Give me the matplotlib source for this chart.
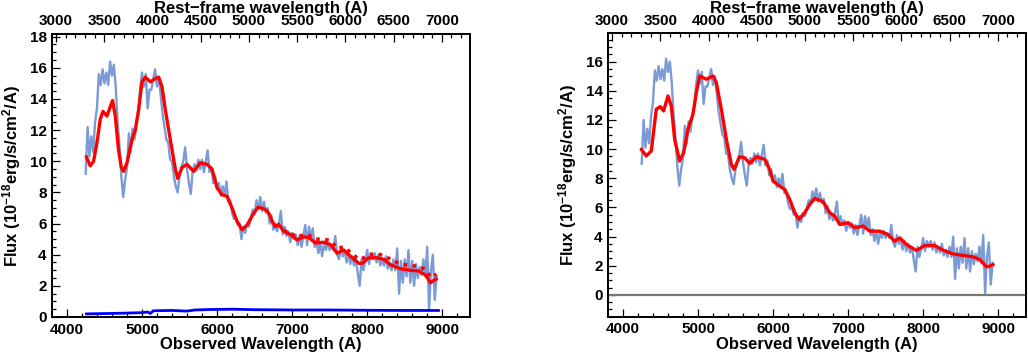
import numpy as np
import matplotlib
matplotlib.use("Agg")
import matplotlib.pyplot as plt
from matplotlib.ticker import MultipleLocator

plt.rcParams['font.family'] = ['Liberation Sans', 'DejaVu Sans']
plt.rcParams['font.weight'] = 'bold'
plt.rcParams['mathtext.fontset'] = 'custom'
plt.rcParams['mathtext.rm'] = 'Liberation Sans:bold'
plt.rcParams['mathtext.bf'] = 'Liberation Sans:bold'
plt.rcParams['mathtext.default'] = 'bf'

# redshift used for the rest-frame axis on top
z = 0.285
xmin, xmax = 3805, 9370

# observed spectrum (wavelength grid in A, flux in 1e-18 erg/s/cm2/A)
spec_wave = np.arange(4250, 8950, 25)
spec_flux_left = [
    9.2, 12.2, 10.3, 11.6, 10.6, 12.5, 13.4, 15.6, 14.9, 15.9,
    15.0, 15.7, 14.9, 16.4, 15.5, 16.2, 14.8, 12.5, 11.0, 9.0,
    7.7, 8.8, 9.6, 11.8, 10.6, 12.1, 11.4, 12.5, 13.2, 14.6,
    15.7, 14.8, 15.6, 13.4, 14.6, 14.6, 15.3, 15.9, 14.8, 15.4,
    14.2, 13.0, 12.2, 11.4, 11.2, 10.1, 10.0, 9.0, 8.4, 8.0,
    9.0, 9.6, 10.0, 10.9, 9.5, 8.6, 7.9, 9.4, 9.8, 9.4,
    10.1, 9.5, 10.1, 9.3, 10.0, 10.7, 9.3, 9.6, 8.6, 9.0,
    8.2, 8.6, 7.8, 8.4, 7.8, 8.7, 7.4, 7.5, 6.7, 6.3,
    6.4, 5.9, 6.0, 5.0, 5.8, 5.4, 6.0, 5.8, 6.3, 6.9,
    6.6, 7.5, 6.9, 7.7, 6.8, 7.4, 6.7, 7.0, 6.0, 6.5,
    5.6, 6.0, 5.5, 6.0, 6.8, 5.3, 5.8, 5.2, 5.5, 4.8,
    5.4, 5.0, 5.3, 4.6, 5.2, 4.5, 5.2, 5.9, 4.6, 5.8,
    5.0, 5.7, 4.5, 4.9, 4.1, 4.8, 3.9, 4.7, 4.3, 4.8,
    4.3, 4.6, 4.3, 5.2, 4.0, 3.7, 4.5, 3.9, 4.3, 3.5,
    4.1, 3.4, 3.9, 3.3, 3.7, 2.8, 2.0, 3.7, 3.0, 3.6,
    4.3, 3.4, 4.1, 3.7, 4.1, 3.5, 4.0, 3.3, 3.7, 3.3,
    3.9, 3.1, 3.5, 3.0, 3.7, 3.0, 4.4, 1.5, 3.6, 2.2,
    3.7, 2.6, 4.3, 2.2, 3.6, 2.0, 3.4, 2.5, 3.2, 2.7,
    3.7, 2.6, 4.5, 0.5, 3.0, 4.0, 1.1, 2.6,
]
spec_flux_right = [
    9.0, 12.0, 10.1, 11.4, 10.4, 12.3, 13.2, 15.4, 14.7, 15.7,
    14.8, 15.5, 14.7, 16.2, 15.3, 16.0, 14.6, 12.3, 10.8, 8.8,
    7.5, 8.6, 9.4, 11.6, 10.4, 11.9, 11.2, 12.3, 13.0, 14.4,
    15.4, 14.5, 15.3, 13.1, 14.3, 14.3, 14.9, 15.5, 14.4, 15.0,
    13.8, 12.6, 11.8, 11.0, 10.8, 9.7, 9.6, 8.6, 8.0, 7.6,
    8.6, 9.2, 9.6, 10.5, 9.1, 8.2, 7.5, 9.0, 9.4, 9.0,
    9.7, 9.1, 9.7, 8.9, 9.6, 10.3, 8.9, 9.2, 8.2, 8.6,
    7.8, 8.2, 7.4, 8.0, 7.4, 8.3, 7.0, 7.1, 6.3, 5.9,
    6.0, 5.5, 5.6, 4.6, 5.4, 5.0, 5.6, 5.4, 5.9, 6.5,
    6.2, 7.1, 6.5, 7.3, 6.4, 7.0, 6.3, 6.6, 5.6, 6.1,
    5.2, 5.6, 5.1, 5.6, 6.4, 4.9, 5.4, 4.8, 5.1, 4.4,
    5.0, 4.6, 4.9, 4.2, 4.8, 4.1, 4.8, 5.5, 4.2, 5.4,
    4.6, 5.3, 4.1, 4.5, 3.7, 4.4, 3.5, 4.3, 3.9, 4.4,
    3.9, 4.2, 3.9, 4.8, 3.6, 3.3, 4.1, 3.5, 3.9, 3.1,
    3.7, 3.0, 3.5, 2.9, 3.3, 2.4, 1.6, 3.3, 2.6, 3.2,
    3.9, 3.0, 3.7, 3.3, 3.7, 3.1, 3.6, 2.9, 3.3, 2.9,
    3.5, 2.7, 3.1, 2.6, 3.3, 2.6, 4.0, 1.1, 3.2, 1.8,
    3.3, 2.2, 3.9, 1.8, 3.2, 1.6, 3.0, 2.1, 2.8, 2.3,
    3.3, 2.2, 4.1, 0.1, 2.6, 3.6, 0.7, 2.2,
]

# best fit model, left panel (solid red)
model_wave_left = [4257, 4311, 4355, 4400, 4444, 4480, 4533, 4577, 4608, 4644,
                   4688, 4725, 4755, 4800, 4844, 4880, 4911, 4955, 5000, 5044,
                   5111, 5177, 5222, 5266, 5311, 5377, 5444, 5475, 5533, 5600,
                   5688, 5777, 5866, 5933, 6000, 6066, 6133, 6200, 6266, 6333,
                   6400, 6480, 6546, 6622, 6666, 6702, 6733, 6777, 6822, 6888,
                   6977, 7066, 7155, 7222, 7311, 7422, 7511, 7600, 7688, 7777,
                   7888, 7933, 8022, 8133, 8222, 8311, 8444, 8577, 8688, 8777,
                   8844, 8888, 8924]
model_flux_left = [10.3, 9.7, 10.0, 11.2, 12.7, 13.2, 12.9, 13.5, 13.9, 12.9,
                   10.7, 9.6, 9.35, 9.9, 10.9, 11.6, 12.0, 13.3, 15.1, 15.4,
                   15.1, 15.3, 15.4, 14.8, 13.3, 11.4, 9.5, 8.9, 9.6, 9.8,
                   9.35, 9.9, 9.8, 9.5, 8.3, 7.85, 7.75, 7.0, 6.15, 5.6,
                   5.9, 6.6, 7.05, 6.95, 6.8, 6.55, 6.15, 5.8, 5.95, 5.5,
                   5.3, 4.95, 5.15, 5.1, 4.75, 4.8, 4.65, 4.1, 4.3, 3.9,
                   3.45, 3.45, 3.8, 3.8, 3.7, 3.35, 3.1, 3.0, 2.95, 2.7,
                   2.2, 2.35, 2.45]

# second model, left panel (dotted red, only where it departs from the solid one)
model2_wave = [6888, 6977, 7066, 7155, 7222, 7311, 7422, 7511, 7600, 7688,
               7777, 7888, 7933, 8022, 8133, 8222, 8311, 8444, 8577, 8688,
               8777, 8844, 8888, 8924]
model2_flux = [5.55, 5.4, 5.1, 5.3, 5.25, 5.0, 5.0, 4.9, 4.4, 4.5,
               4.15, 3.7, 3.75, 4.0, 4.05, 3.95, 3.7, 3.4, 3.3, 3.25,
               3.05, 2.55, 2.65, 2.75]

# error / extra component, left panel (blue)
err_wave = [4260, 4500, 4800, 5000, 5080, 5110, 5150, 5400, 5600, 5700,
            5900, 6200, 6500, 6800, 7000, 7500, 8000, 8500, 8950]
err_flux = [0.20, 0.22, 0.25, 0.28, 0.32, 0.22, 0.40, 0.42, 0.38, 0.45,
            0.48, 0.50, 0.47, 0.46, 0.45, 0.45, 0.43, 0.42, 0.42]

# best fit model, right panel
model_wave_right = [4244, 4311, 4378, 4444, 4498, 4542, 4600, 4644, 4689, 4755,
                    4809, 4867, 4933, 4978, 5022, 5111, 5200, 5244, 5311, 5378,
                    5444, 5480, 5555, 5622, 5689, 5778, 5889, 5955, 6000, 6089,
                    6155, 6222, 6289, 6346, 6422, 6489, 6555, 6667, 6755, 6822,
                    6889, 7000, 7089, 7200, 7289, 7422, 7533, 7622, 7689, 7778,
                    7911, 8022, 8155, 8266, 8400, 8533, 8666, 8755, 8844, 8889,
                    8933]
model_flux_right = [9.99, 9.53, 9.87, 12.74, 12.92, 12.62, 13.65, 12.96, 10.67, 9.18,
                    9.76, 11.36, 12.39, 13.88, 15.02, 14.8, 15.02, 14.57, 12.74, 10.67,
                    8.96, 8.61, 9.48, 9.41, 9.02, 9.48, 9.3, 8.61, 7.81, 7.46,
                    7.24, 6.55, 5.64, 5.18, 5.64, 6.21, 6.62, 6.39, 5.64, 5.4,
                    4.83, 4.95, 4.61, 4.72, 4.37, 4.37, 4.14, 3.68, 3.91, 3.45,
                    3.04, 3.38, 3.38, 3.06, 2.81, 2.7, 2.61, 2.42, 1.92, 1.97,
                    2.08]

spec_color = '#7b9bd6'
W, H = 1028, 354
fig = plt.figure(figsize=(W / 100, H / 100), dpi=100)


def style_axes(ax, ymin, ymax):
    ax.set_xlim(xmin, xmax)
    ax.set_ylim(ymin, ymax)
    ax.xaxis.set_major_locator(MultipleLocator(1000))
    ax.xaxis.set_minor_locator(MultipleLocator(200))
    ax.yaxis.set_major_locator(MultipleLocator(2))
    ax.yaxis.set_minor_locator(MultipleLocator(0.5))
    ax.tick_params(which='both', direction='in', top=False, right=False,
                   labelsize=11, pad=4, width=0.9)
    ax.tick_params(which='major', length=5.5)
    ax.tick_params(which='minor', length=2.6)
    for s in ax.spines.values():
        s.set_linewidth(1.3)
    # rest-frame axis on top
    top = ax.twiny()
    top.set_xlim(xmin / (1 + z), xmax / (1 + z))
    top.xaxis.set_major_locator(MultipleLocator(500))
    top.xaxis.set_minor_locator(MultipleLocator(100))
    top.tick_params(which='both', direction='in', labelsize=11, pad=4, width=0.9,
                    bottom=False, top=True)
    top.tick_params(which='major', length=5.5)
    top.tick_params(which='minor', length=2.6)
    for s in top.spines.values():
        s.set_linewidth(1.3)


def add_titles(x0, x1, y_top, y_bot):
    cx = (x0 + x1) / 2 / W
    fig.text(cx, 1 - 8 / H, 'Rest\u2212frame wavelength (A)', ha='center', va='center',
             fontsize=12, fontweight='bold')
    fig.text(cx, 1 - 345 / H, 'Observed Wavelength (A)', ha='center', va='center',
             fontsize=12, fontweight='bold')
    fig.text((x0 - 40.8) / W, 1 - (y_top + y_bot) / 2 / H,
             r'Flux (10$^{\mathbf{-18}}$erg/s/cm$^{\mathbf{2}}$/A)',
             rotation=90, ha='center', va='center', fontsize=12, fontweight='bold')


# left panel
x0, x1, yt, yb = 52.3, 470, 34, 317
ax1 = fig.add_axes([x0 / W, 1 - yb / H, (x1 - x0) / W, (yb - yt) / H])
ax1.plot(spec_wave, spec_flux_left, color=spec_color, lw=1.7)
ax1.plot(model_wave_left, model_flux_left, color='red', lw=2.4, solid_capstyle='round')
ax1.plot(model2_wave, model2_flux, color='red', lw=2.6, linestyle=(0, (1, 1.5)), zorder=3)
ax1.plot(err_wave, err_flux, color='blue', lw=2.0)
style_axes(ax1, 0, 18.17)
add_titles(x0, x1, yt, yb)

# right panel
x0, x1, yt, yb = 608.3, 1026, 33.3, 316.7
ax2 = fig.add_axes([x0 / W, 1 - yb / H, (x1 - x0) / W, (yb - yt) / H])
ax2.axhline(0, color='#777777', lw=1.6)
ax2.plot(spec_wave, spec_flux_right, color=spec_color, lw=1.7)
ax2.plot(model_wave_right, model_flux_right, color='red', lw=2.4, solid_capstyle='round')
style_axes(ax2, -1.5, 17.95)
add_titles(x0, x1, yt, yb)

fig.savefig('out.png', dpi=100)
